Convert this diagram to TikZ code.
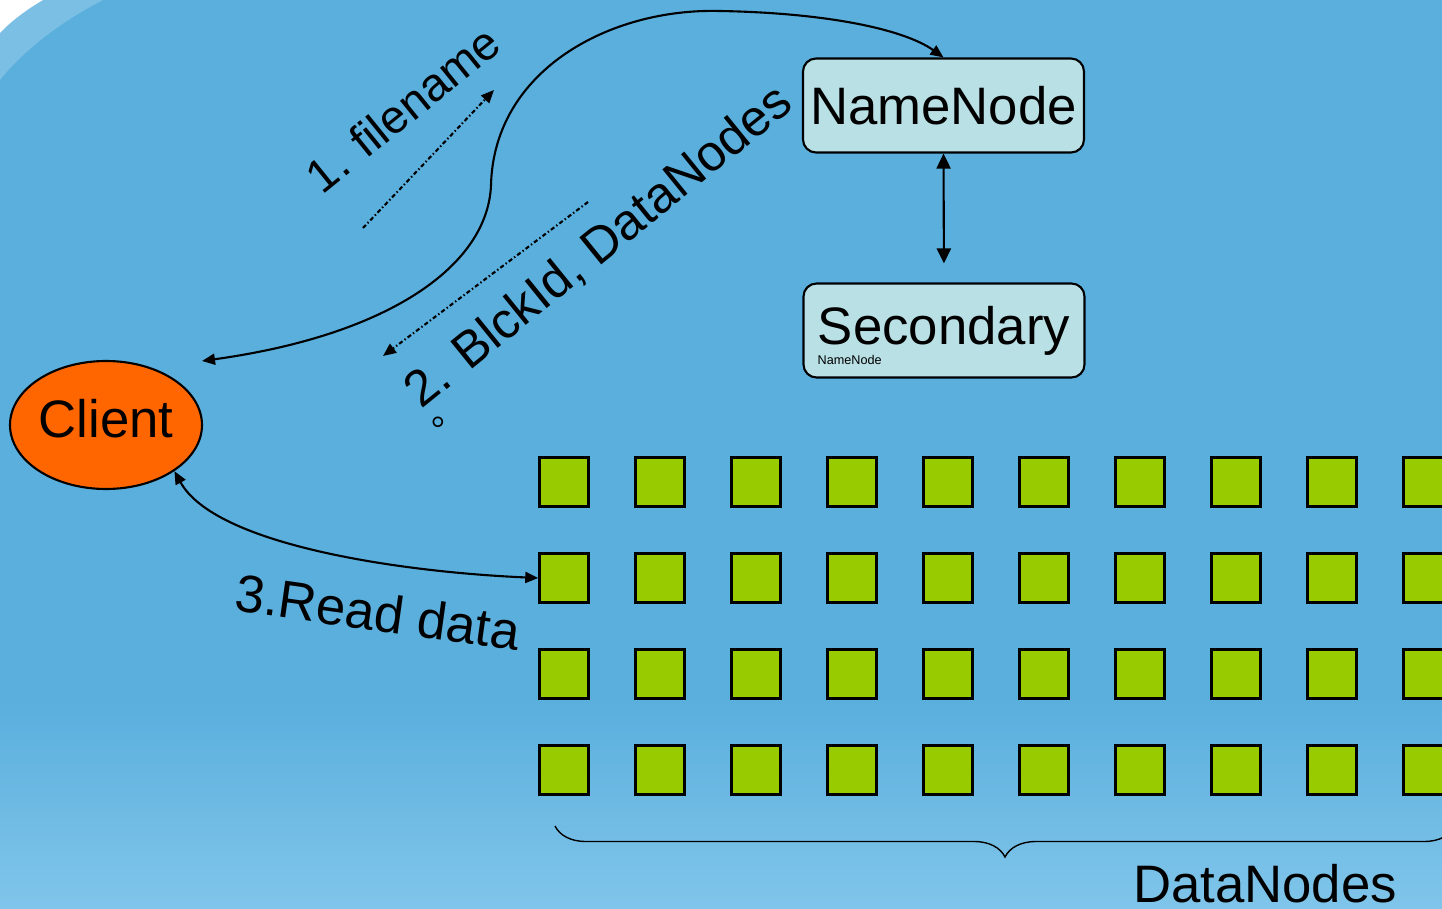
\documentclass[tikz,border=0pt]{standalone}
\usepackage{fontspec}
\setmainfont{Liberation Sans}
\newfontfamily\cjk{Noto Sans CJK SC}
\usetikzlibrary{arrows.meta,shapes.geometric,decorations.pathreplacing,positioning}

\definecolor{bgblue}{HTML}{5AAFDD}
\definecolor{bglight}{HTML}{80C5EA}
\definecolor{boxfill}{HTML}{B9E0E5}
\definecolor{clientfill}{HTML}{FF6600}
\definecolor{dnfill}{HTML}{99CC00}

\tikzset{
  bigtext/.style={font=\fontsize{15}{18}\selectfont},
  nnbox/.style={draw=black, semithick, fill=boxfill, rounded corners=1.3mm,
    minimum width=28.1mm, minimum height=9.4mm, inner sep=0pt, bigtext},
  dnbox/.style={draw=black, line width=0.7pt, fill=dnfill, minimum size=4.9mm, inner sep=0pt},
  link/.style={semithick, {Triangle[length=1.3mm,width=1.1mm]}-{Triangle[length=1.3mm,width=1.1mm]}},
  sync/.style={semithick, {Triangle[length=1.5mm,width=1.4mm]}-{Triangle[length=1.5mm,width=1.4mm]}},
  msg/.style={semithick, dash pattern=on 1.2pt off 0.7pt on 0.4pt off 0.7pt,
    -{Triangle[length=1.3mm,width=1.1mm]}},
}

\begin{document}
\begin{tikzpicture}[x=0.1mm, y=-0.1mm]

	%\draw[help lines] (0,0) grid (1442,909);
	\useasboundingbox (0,0) rectangle (1442,909);

	\fill[bgblue] (0,0) rectangle (1442,909); % background
	\shade[top color=bgblue, bottom color=bglight] (0,700) rectangle (1442,909);
	\fill[bgblue!80!white] (43,0) -- (103,0) .. controls (60,22) and (22,52) .. (0,80) -- (0,33) .. controls (8,24) and (24,11) .. (43,0);
	\fill[white] (0,0) -- (43,0) .. controls (24,11) and (8,24) .. (0,33) -- cycle;

	\node[nnbox] (nn) at (943.5,105.5) {NameNode}; % namenode
	\node[nnbox] (snd) at (944,330.5) {Secondary}; % secondary
	\node[font=\fontsize{3.6}{4}\selectfont, anchor=base west, inner sep=0pt] (snd-sub) at (817,365) {NameNode};

	\node[ellipse, draw, semithick, fill=clientfill, minimum width=19.2mm, minimum height=12.8mm,
		inner sep=0pt, text depth=1.4mm, bigtext] (client) at (106,425) {Client}; % client

	% datanodes
	\foreach \r in {1,...,4}
		\foreach \c in {1,...,10}
			\node[dnbox] (dn-\r-\c) at ({564+96*(\c-1)}, {482+96*(\r-1)}) {};

	\coordinate (br-l) at (555,826);
	\coordinate (br-r) at (1455,826);
	\draw[thin, decorate, decoration={brace, mirror, amplitude=3.1mm}] (br-l) -- (br-r);
	\node[bigtext] (dn-label) at (1265,884) {DataNodes};

	% 1. filename
	\coordinate (f-a) at (363,228);
	\coordinate (f-b) at (494,90);
	\draw[msg] (f-a) -- (f-b);
	\node[font=\fontsize{13.3}{16}\selectfont, rotate=39] (lbl-file) at (403,109) {1. filename};

	% 2. blocks
	\coordinate (b-a) at (588,202);
	\coordinate (b-b) at (383,356);
	\draw[msg] (b-a) -- (b-b);
	\node[font=\fontsize{14.4}{17}\selectfont, rotate=39] (lbl-blk) at (599,247) {2. BlckId, DataNodes};
	\node[font=\cjk\fontsize{10}{12}\selectfont] (lbl-stop) at (449,422) {。};

	\coordinate (cl-in) at (202,361);
	\draw[link] (cl-in) .. controls (390,335) and (488,265) .. (491,185)
		.. controls (494,70) and (610,8) .. (720,11)
		.. controls (830,13) and (905,30) .. (nn.north);

	\draw[sync, shorten >=1.9mm] (nn.south) -- (snd.north);

	% 3. read
	\draw[link] (client.-34) .. controls (215,545) and (400,572) .. (dn-2-1.west);
	\node[bigtext, rotate=-8] (lbl-read) at (378,612) {3.Read data};

\end{tikzpicture}
\end{document}
